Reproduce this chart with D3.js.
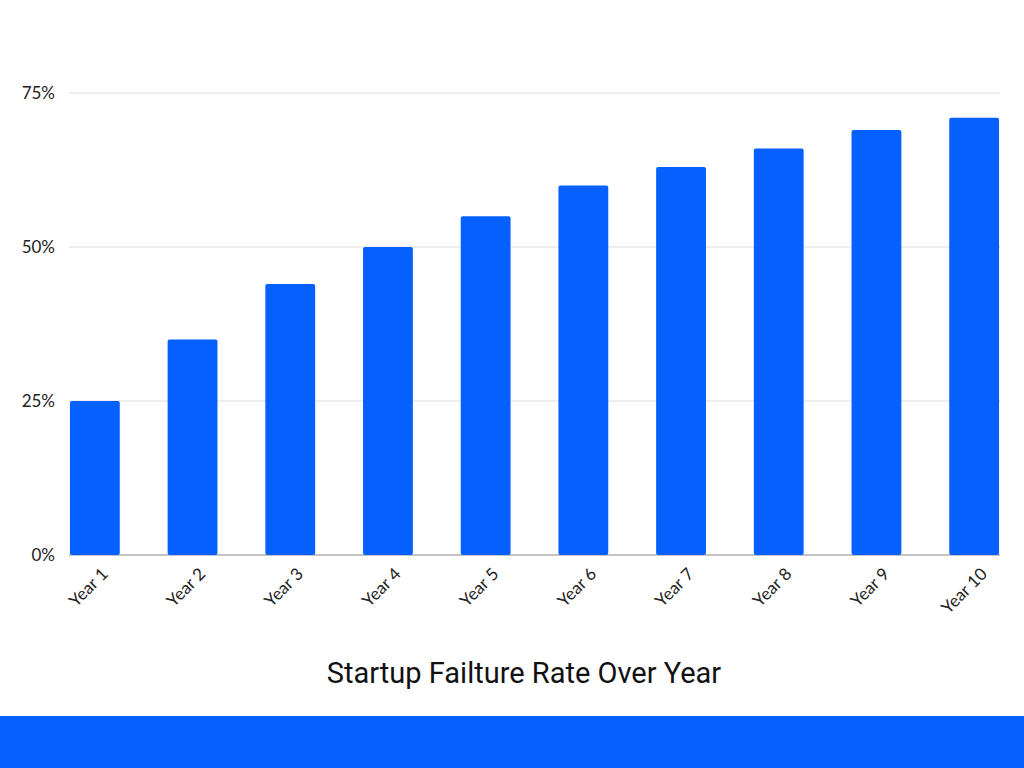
<!DOCTYPE html>
<html><head><meta charset="utf-8">
<script src="https://cdn.jsdelivr.net/npm/d3@7"></script>
<style>body{margin:0;background:#fff}svg{display:block}</style>
</head><body>
<script>
const years = ["Year 1","Year 2","Year 3","Year 4","Year 5","Year 6","Year 7","Year 8","Year 9","Year 10"];
const failureRates = [25, 35, 44, 50, 55, 60, 63, 66, 69, 71];
const yTicks = [0, 25, 50, 75];
const title = "Startup Failture Rate Over Year";

const blue = "#0560fd";
const svg = d3.select("body").append("svg").attr("width", 1024).attr("height", 768);

const x = d3.scaleBand().domain(years).range([46, 1023]).paddingInner(0.49).paddingOuter(0.245);
const y = d3.scaleLinear().domain([0, 75]).range([555, 93]);

// grid
svg.append("g").selectAll("line").data(yTicks).join("line")
  .attr("x1", 69).attr("x2", 1000)
  .attr("y1", d => y(d)).attr("y2", d => y(d))
  .attr("stroke", d => d === 0 ? "#888" : "#ddd").attr("stroke-width", 1.2);

svg.append("g").selectAll("text").data(yTicks).join("text")
  .attr("x", 55).attr("y", d => y(d)).attr("dy", "0.35em")
  .attr("text-anchor", "end").attr("font-family", "Lato, sans-serif").attr("font-size", 17).attr("fill", "#222")
  .text(d => d + "%");

svg.append("g").selectAll("rect").data(failureRates).join("rect")
  .attr("x", (d, i) => x(years[i])).attr("width", x.bandwidth())
  .attr("y", d => y(d)).attr("height", d => y(0) - y(d))
  .attr("rx", 2).attr("fill", blue);

svg.append("g").selectAll("text").data(years).join("text")
  .attr("transform", d => `translate(${x(d) + x.bandwidth() / 2 + 14},${575}) rotate(-45)`)
  .attr("text-anchor", "end").attr("font-family", "Lato, sans-serif").attr("font-size", 17).attr("fill", "#222")
  .text(d => d);

svg.append("text").attr("x", 524).attr("y", 683).attr("text-anchor", "middle")
  .attr("font-family", "Roboto, sans-serif").attr("font-size", 29).attr("fill", "#111").text(title);

svg.append("rect").attr("x", 0).attr("y", 716).attr("width", 1024).attr("height", 52).attr("fill", blue);
</script>
</body></html>
